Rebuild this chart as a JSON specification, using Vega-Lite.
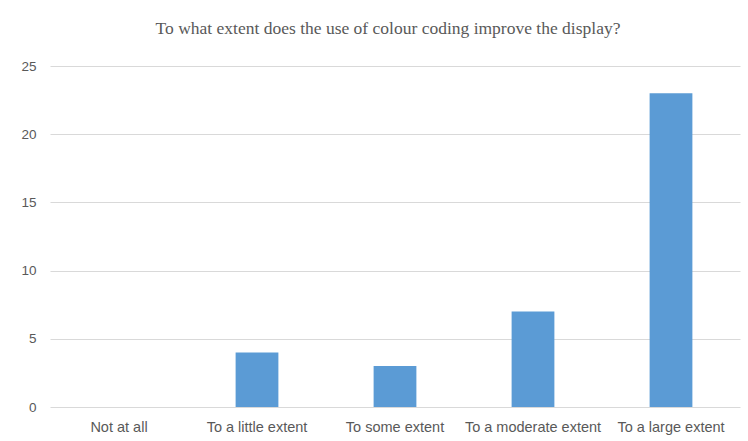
{
  "$schema": "https://vega.github.io/schema/vega-lite/v6.json",
  "autosize": "none",
  "width": 690,
  "height": 341,
  "padding": {"left": 50, "top": 66, "right": 8, "bottom": 34},
  "background": "white",
  "title": {
    "text": "To what extent does the use of colour coding improve the display?",
    "font": "Liberation Serif",
    "fontSize": 17.5,
    "fontWeight": "normal",
    "color": "#595959",
    "anchor": "middle",
    "baseline": "alphabetic",
    "offset": 8,
    "dx": -7
  },
  "data": {
    "values": [
      {"response": "Not at all", "count": 0},
      {"response": "To a little extent", "count": 4},
      {"response": "To some extent", "count": 3},
      {"response": "To a moderate extent", "count": 7},
      {"response": "To a large extent", "count": 23}
    ]
  },
  "mark": {"type": "bar", "color": "#5b9bd5"},
  "encoding": {
    "x": {
      "field": "response",
      "type": "nominal",
      "sort": null,
      "scale": {"paddingInner": 0.69, "paddingOuter": 0.345},
      "axis": {
        "title": null,
        "labelAngle": 0,
        "domain": false,
        "ticks": false,
        "labelPadding": 13,
        "labelFont": "Liberation Sans",
        "labelFontSize": 14.5,
        "labelColor": "#595959"
      }
    },
    "y": {
      "field": "count",
      "type": "quantitative",
      "scale": {"domain": [0, 25], "nice": false},
      "axis": {
        "title": null,
        "values": [0, 5, 10, 15, 20, 25],
        "domain": false,
        "ticks": false,
        "labelPadding": 14,
        "gridColor": "#d9d9d9",
        "gridWidth": 1,
        "labelFont": "Liberation Sans",
        "labelFontSize": 13.5,
        "labelColor": "#595959"
      }
    }
  },
  "config": {"view": {"stroke": null}}
}
